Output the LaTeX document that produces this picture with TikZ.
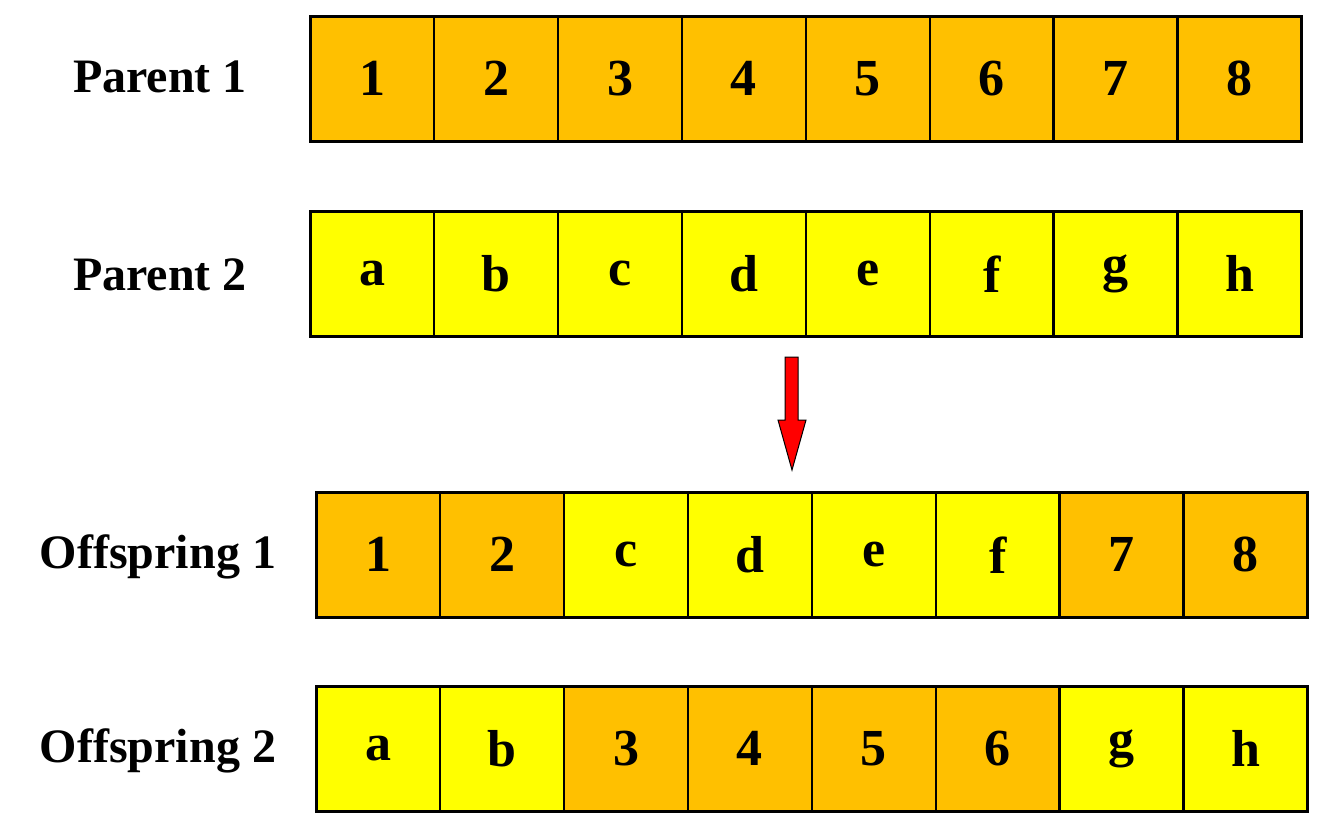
\documentclass[tikz,border=0pt]{standalone}
\usepackage{fontspec}
\setmainfont{Liberation Serif}
\definecolor{org}{HTML}{FFC000}
\definecolor{yel}{HTML}{FFFF00}
\begin{document}
\begin{tikzpicture}[x=1pt,y=-1pt,
  cell/.style={draw=black,line width=2.5pt,minimum width=123.9pt,minimum height=125pt,inner sep=0pt,anchor=north west,font=\fontsize{52}{52}\selectfont\bfseries},
  lab/.style={font=\fontsize{48}{48}\selectfont\bfseries}]
\useasboundingbox (0,0) rectangle (1321,830);
\def\W{123.9}
\foreach \t [count=\i] in {1,...,8}
  \node[cell,fill=org] (pa\i) at ({309+(\i-1)*\W},15) {\t};
\foreach \t [count=\i] in {a,b,c,d,e,f,g,h}
  \node[cell,fill=yel] (pb\i) at ({309+(\i-1)*\W},210) {\t};
\foreach \t/\c [count=\i] in {1/org,2/org,c/yel,d/yel,e/yel,f/yel,7/org,8/org}
  \node[cell,fill=\c] (oa\i) at ({315+(\i-1)*\W},491) {\t};
\foreach \t/\c [count=\i] in {a/yel,b/yel,3/org,4/org,5/org,6/org,g/yel,h/yel}
  \node[cell,fill=\c] (ob\i) at ({315+(\i-1)*\W},685) {\t};
\node[lab] (l1) at (160,77) {Parent 1};
\node[lab] (l2) at (160,275) {Parent 2};
\node[lab] (l3) at (158,557) {Offspring 1};
\node[lab] (l4) at (158,751) {Offspring 2};
\draw[fill=red,line width=1pt] (785,357) -- (798,357) -- (798,420) -- (806,420) -- (792,470) -- (778,420) -- (785,420) -- cycle;
\end{tikzpicture}
\end{document}
